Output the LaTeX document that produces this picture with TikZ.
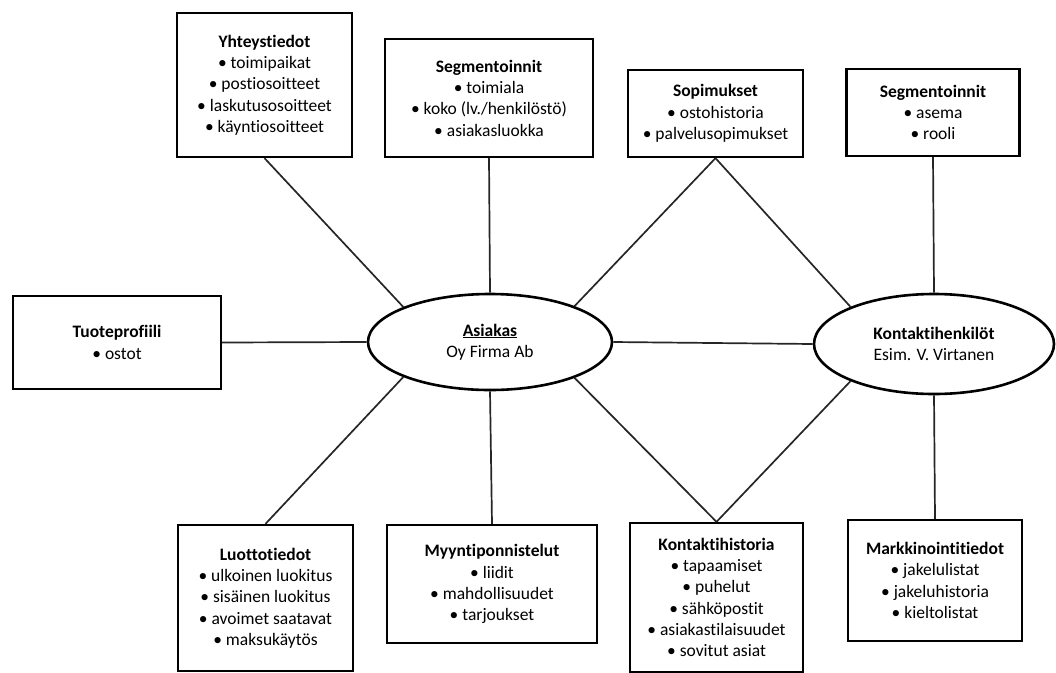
\documentclass[tikz,border=0pt]{standalone}
\usepackage{fontspec}
\setmainfont{Carlito}[Ligatures={NoCommon}]
\usepackage{tikz}
\usetikzlibrary{shapes,calc,positioning}

\tikzset{
  infobox/.style={draw, line width=2.3pt, rectangle, align=center, inner sep=0pt,
    font=\fontsize{17.5}{21.3}\selectfont},
  hubnode/.style={draw, line width=2.6pt, ellipse, align=center, inner sep=0pt,
    font=\fontsize{17.5}{21.3}\selectfont},
  link/.style={line width=1.7pt, draw=black!85}
}

\begin{document}
\begin{tikzpicture}[x=1pt,y=-1pt]
        \useasboundingbox (0,0) rectangle (1056,672);
        % keskimmaiset soikiot
        \node[hubnode, minimum width=244pt, minimum height=96pt] (asiakas) at (490,342)
            {\textbf{\underline{Asiakas}}\\Oy Firma Ab};
        \node[hubnode, minimum width=240pt, minimum height=100pt] (kontakt) at (934,344)
            {\textbf{Kontaktihenkilöt}\\Esim. V. Virtanen};
        % ylarivi
        \node[infobox, minimum width=175pt, minimum height=144pt] (yht) at (264.5,85)
            {\textbf{Yhteystiedot}\\• toimipaikat\\• postiosoitteet\\• laskutusosoitteet\\• käyntiosoitteet};
        \node[infobox, minimum width=208pt, minimum height=118pt] (segA) at (489,98)
            {\textbf{Segmentoinnit}\\• toimiala\\• koko (lv./henkilöstö)\\• asiakasluokka};
        \node[infobox, minimum width=175pt, minimum height=87pt] (sop) at (715.5,113.5)
            {\textbf{Sopimukset}\\• ostohistoria\\• palvelusopimukset};
        \node[infobox, minimum width=173pt, minimum height=87pt] (segB) at (933,112.5)
            {\textbf{Segmentoinnit}\\• asema\\• rooli};
        % vasen
        \node[infobox, minimum width=208pt, minimum height=93pt] (tuote) at (117,342.5)
            {\textbf{Tuoteprofiili}\\• ostot};
        % alarivi
        \node[infobox, minimum width=175pt, minimum height=146pt] (luotto) at (265.5,598)
            {\textbf{Luottotiedot}\\• ulkoinen luokitus\\• sisäinen luokitus\\• avoimet saatavat\\• maksukäytös};
        \node[infobox, minimum width=210pt, minimum height=118pt] (myynti) at (492,584)
            {\textbf{Myyntiponnistelut}\\• liidit\\• mahdollisuudet\\• tarjoukset};
        \node[infobox, minimum width=173pt, minimum height=149pt] (khist) at (716.5,597.5)
            {\textbf{Kontaktihistoria}\\• tapaamiset\\• puhelut\\• sähköpostit\\• asiakastilaisuudet\\• sovitut asiat};
        \node[infobox, minimum width=174pt, minimum height=121pt] (markk) at (935,580.5)
            {\textbf{Markkinointitiedot}\\• jakelulistat\\• jakeluhistoria\\• kieltolistat};
        % yhteydet
        \draw[link] (yht.south) -- (asiakas.158);
        \draw[link] (segA.south) -- (asiakas.north);
        \draw[link] (sop.south) -- (asiakas.23);
        \draw[link] (sop.south) -- (kontakt.156);
        \draw[link] (segB.south) -- (kontakt.north);
        \draw[link] (tuote.east) -- (asiakas.west);
        \draw[link] (asiakas.east) -- (kontakt.west);
        \draw[link] (luotto.north) -- (asiakas.202);
        \draw[link] (myynti.north) -- (asiakas.south);
        \draw[link] (khist.north) -- (asiakas.337);
        \draw[link] (khist.north) -- (kontakt.204);
        \draw[link] (markk.north) -- (kontakt.south);
\end{tikzpicture}
\end{document}
